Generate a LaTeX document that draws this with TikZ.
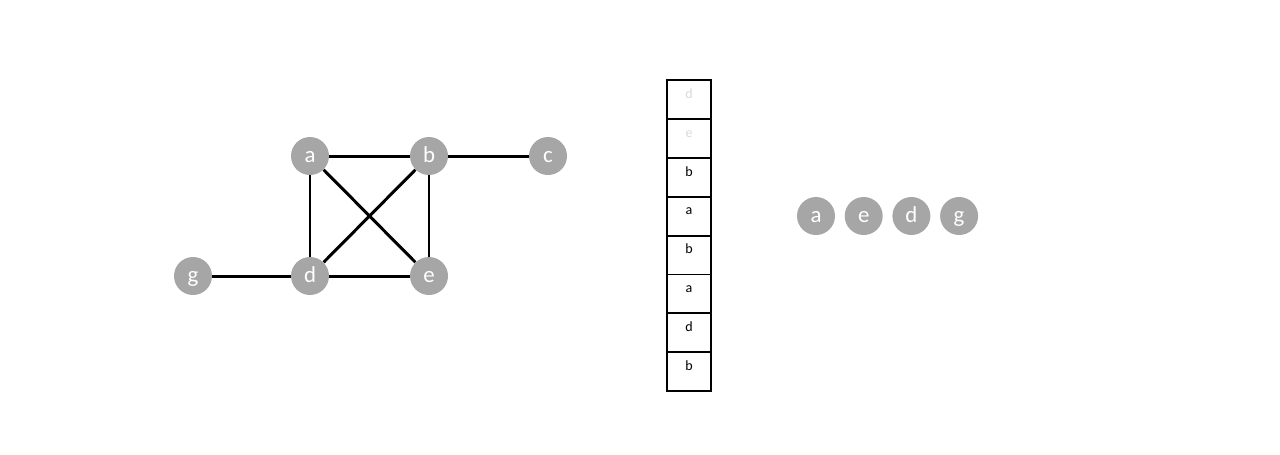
\documentclass[tikz,border=0pt]{standalone}
\usepackage{fontspec}
\setmainfont{Carlito}
\usetikzlibrary{positioning}
\definecolor{Vertex}{HTML}{A6A6A6}
\definecolor{Faded}{HTML}{D9D9D9}
\tikzset{
    % graph vertices
    vertex/.style={
        circle,
        fill=Vertex,
        draw=none,
        minimum size=0.76cm,
        inner sep=0pt,
        text=white,
        text height=0.25cm,
        text depth=0pt,
        font=\fontsize{13}{15}\selectfont
    },
    edge/.style={
        line width=1.7pt,
        draw=black
    },
    % stack cells
    cell/.style={
        rectangle,
        draw=black,
        line width=1.1pt,
        fill=white,
        minimum width=0.88cm,
        minimum height=0.778cm,
        outer sep=0pt,
        inner sep=0pt,
        text height=0.1cm,
        text depth=0.15cm,
        font=\fontsize{8}{9}\selectfont
    },
    fadedcell/.style={
        cell,
        text=Faded
    }
}
\begin{document}
\begin{tikzpicture}[node distance=0.18cm]
            \useasboundingbox (0,0) rectangle (25.6,-9.08);

            % Graph
            \node[vertex] (a) at (6.20,-3.12) {a};
            \node[vertex] (b) at (8.58,-3.12) {b};
            \node[vertex] (c) at (10.96,-3.12) {c};
            \node[vertex] (g) at (3.86,-5.52) {g};
            \node[vertex] (d) at (6.20,-5.52) {d};
            \node[vertex] (e) at (8.58,-5.52) {e};

            \draw[edge] (a) -- (b);
            \draw[edge] (b) -- (c);
            \draw[edge] (a) -- (d);
            \draw[edge] (a) -- (e);
            \draw[edge] (b) -- (d);
            \draw[edge] (b) -- (e);
            \draw[edge] (d) -- (e);
            \draw[edge] (g) -- (d);

            % Stack
            \node[fadedcell] (s1) at (13.78,-1.989) {d};
            \node[fadedcell, below=0pt of s1] (s2) {e};
            \node[cell, below=0pt of s2] (s3) {b};
            \node[cell, below=0pt of s3] (s4) {a};
            \node[cell, below=0pt of s4] (s5) {b};
            \node[cell, below=0pt of s5] (s6) {a};
            \node[cell, below=0pt of s6] (s7) {d};
            \node[cell, below=0pt of s7] (s8) {b};

            % Output order
            \node[vertex] (oa) at (16.32,-4.32) {a};
            \node[vertex, right=of oa] (oe) {e};
            \node[vertex, right=of oe] (od) {d};
            \node[vertex, right=of od] (og) {g};
        \end{tikzpicture}
\end{document}
